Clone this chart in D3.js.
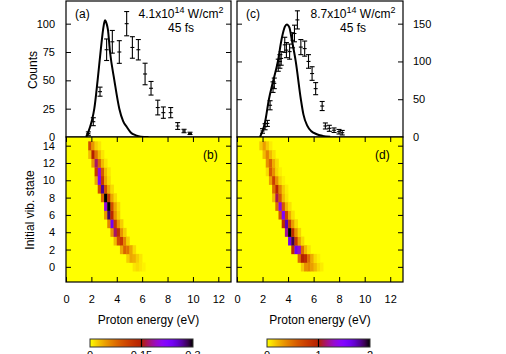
<!DOCTYPE html>
<html><head><meta charset="utf-8">
<script src="https://cdn.jsdelivr.net/npm/d3@7"></script>
<style>
body{margin:0;background:#fff}
svg{display:block;font-family:"Liberation Sans",Arial,sans-serif}
</style></head><body>
<svg id="chart" width="506" height="354"></svg>
<script>
// panel (a): measured counts with error bars, 4.1e14 W/cm2
var aEnergy = [1.76, 2.15, 2.68, 3.2, 3.65, 4.2, 4.78, 5.23, 5.7, 6.23, 6.7, 7.23, 7.67, 8.25, 8.8, 9.3, 9.77];
var aCounts = [3, 13.5, 40, 77, 84, 75, 100, 79, 77, 55.6, 43, 26, 21.5, 21.5, 9.7, 5.3, 3.2];
var aErr    = [1.5, 3.5, 4, 9.5, 10, 10, 10.7, 9.5, 9, 9.5, 6, 6.5, 5, 4.5, 3, 1.5, 1];
// panel (a): calculated curve
var aCurveE = [1.6, 1.9, 2.05, 2.23, 2.49, 2.75, 2.95, 3.07, 3.2, 3.3, 3.47, 3.81, 4.2, 4.5, 4.78, 5.1, 5.5, 5.9, 6.5];
var aCurveC = [0, 9, 15, 25, 50, 78, 97, 103, 100, 95, 75, 50, 25, 14, 9, 4, 1.5, 0.3, 0];

// panel (c): measured counts with error bars, 8.7e14 W/cm2
var cEnergy = [2.0, 2.2, 2.38, 2.59, 2.82, 2.92, 3.23, 3.36, 3.46, 3.74, 3.87, 4.12, 4.35, 4.5, 4.73, 5.0, 5.3, 5.6, 5.88, 6.16, 6.67, 6.92, 7.23, 7.6, 7.99, 8.24];
var cCounts = [8, 13.6, 18, 42, 66, 71, 95, 100, 104, 122, 115, 113, 128, 137, 155, 119, 117, 100, 84, 64, 41, 14.6, 11.5, 9, 7, 5.7];
var cErr    = [3, 4, 4, 6, 7, 7, 8, 9, 9, 10, 10, 10, 10, 11, 12, 10, 10, 9, 9, 8, 6, 4, 4, 3, 3, 3];
// panel (c): calculated curve
var cCurveE = [1.8, 2.0, 2.2, 2.5, 2.8, 3.2, 3.5, 3.75, 3.9, 4.1, 4.3, 4.6, 5.0, 5.2, 5.5, 5.8, 6.2, 6.7, 7.3];
var cCurveC = [0, 8, 20, 50, 72, 100, 130, 146, 149, 145, 128, 100, 50, 30, 15, 8, 4, 1.5, 0.3];

// heat maps: energy bins (left edges, eV) and one row per initial vib. state 0..14
var binEnergy = [1.5, 1.75, 2.0, 2.25, 2.5, 2.75, 3.0, 3.25, 3.5, 3.75, 4.0, 4.25, 4.5, 4.75, 5.0, 5.25, 5.5, 5.75, 6.0, 6.25, 6.5, 6.75, 7.0, 7.25];
var binWidth = 0.25;
var states = [0, 1, 2, 3, 4, 5, 6, 7, 8, 9, 10, 11, 12, 13, 14];
var heatB = [
  [0,0,0,0,0,0,0,0,0,0,0,0,0,0,0,.01,.015,.01,.005,0,0,0,0,0],
  [0,0,0,0,0,0,0,0,0,0,0,0,0,.02,.04,.035,.02,.01,0,0,0,0,0,0],
  [0,0,0,0,0,0,0,0,0,0,0,.04,.08,.07,.04,.015,0,0,0,0,0,0,0,0],
  [0,0,0,0,0,0,0,0,0,.03,.10,.12,.06,.02,0,0,0,0,0,0,0,0,0,0],
  [0,0,0,0,0,0,0,0,.05,.17,.13,.05,.02,0,0,0,0,0,0,0,0,0,0,0],
  [0,0,0,0,0,0,0,.06,.24,.12,.05,.02,0,0,0,0,0,0,0,0,0,0,0,0],
  [0,0,0,0,0,0,.05,.28,.14,.05,.02,0,0,0,0,0,0,0,0,0,0,0,0,0],
  [0,0,0,0,0,0,.20,.30,.10,.04,.015,0,0,0,0,0,0,0,0,0,0,0,0,0],
  [0,0,0,0,0,.08,.30,.12,.04,.015,0,0,0,0,0,0,0,0,0,0,0,0,0,0],
  [0,0,0,0,.10,.27,.10,.04,.015,0,0,0,0,0,0,0,0,0,0,0,0,0,0,0],
  [0,0,0,.04,.23,.12,.04,.015,0,0,0,0,0,0,0,0,0,0,0,0,0,0,0,0],
  [0,0,0,.12,.20,.09,.03,.01,0,0,0,0,0,0,0,0,0,0,0,0,0,0,0,0],
  [0,0,.05,.17,.08,.03,.01,0,0,0,0,0,0,0,0,0,0,0,0,0,0,0,0,0],
  [0,.03,.15,.07,.03,.01,0,0,0,0,0,0,0,0,0,0,0,0,0,0,0,0,0,0],
  [0,.10,.05,.02,.01,0,0,0,0,0,0,0,0,0,0,0,0,0,0,0,0,0,0,0]
];
var heatD = [
  [0,0,0,0,0,0,0,0,0,0,0,0,0,0,.15,.35,.4,.3,.2,.1,.05,0,0,0],
  [0,0,0,0,0,0,0,0,0,0,0,0,0,.5,1.0,.9,.5,.25,.1,.04,0,0,0,0],
  [0,0,0,0,0,0,0,0,0,0,0,.9,1.6,1.3,.5,.2,.07,0,0,0,0,0,0,0],
  [0,0,0,0,0,0,0,0,0,0,1.6,1.9,.8,.3,.1,0,0,0,0,0,0,0,0,0],
  [0,0,0,0,0,0,0,0,0,1.2,2.0,.9,.35,.12,0,0,0,0,0,0,0,0,0,0],
  [0,0,0,0,0,0,0,0,.9,1.75,.75,.3,.1,0,0,0,0,0,0,0,0,0,0,0],
  [0,0,0,0,0,0,0,.6,1.5,.7,.25,.08,0,0,0,0,0,0,0,0,0,0,0,0],
  [0,0,0,0,0,0,.5,1.35,.6,.22,.08,0,0,0,0,0,0,0,0,0,0,0,0,0],
  [0,0,0,0,0,.2,1.1,.6,.2,.07,0,0,0,0,0,0,0,0,0,0,0,0,0,0],
  [0,0,0,0,0,.5,.95,.4,.15,.05,0,0,0,0,0,0,0,0,0,0,0,0,0,0],
  [0,0,0,0,.3,.75,.35,.12,.04,0,0,0,0,0,0,0,0,0,0,0,0,0,0,0],
  [0,0,0,.1,.6,.35,.12,.04,0,0,0,0,0,0,0,0,0,0,0,0,0,0,0,0],
  [0,0,0,.35,.55,.25,.1,0,0,0,0,0,0,0,0,0,0,0,0,0,0,0,0,0],
  [0,0,.2,.4,.2,.08,0,0,0,0,0,0,0,0,0,0,0,0,0,0,0,0,0,0],
  [0,.15,.3,.15,.05,0,0,0,0,0,0,0,0,0,0,0,0,0,0,0,0,0,0,0]
];

var xTicks = [0, 2, 4, 6, 8, 10, 12];
var stateTicks = [0, 2, 4, 6, 8, 10, 12, 14];
var aTicks = [0, 25, 50, 75, 100];
var cTicks = [0, 50, 100, 150];
var cbarB = [0, 0.15, 0.3];
var cbarD = [0, 1, 2];

var svg = d3.select("#chart");
var fs = 11;

// gnuplot default palette (7,5,15), reversed: 0 -> yellow, 1 -> black
function palette(t) {
  var s = 1 - Math.max(0, Math.min(1, t));
  return d3.rgb(255 * Math.sqrt(s), 255 * s * s * s,
                255 * Math.max(0, Math.sin(2 * Math.PI * s)));
}

// panel geometry
var cols = [{x0: 66, x1: 231}, {x0: 237, x1: 403}];
var topY = {y0: 1, y1: 137}, heatY = {y0: 137, y1: 282};

function topPanel(col, energy, counts, err, curveE, curveC, ymax, ticks, label, line1, line2, side) {
  var x = d3.scaleLinear().domain([0, 13]).range([col.x0, col.x1]);
  var y = d3.scaleLinear().domain([0, ymax]).range([topY.y1, topY.y0]);
  var g = svg.append("g");

  // y ticks, left and right, inward
  var left = d3.axisLeft(y).tickValues(ticks).tickSize(-5).tickPadding(11);
  var right = d3.axisRight(y).tickValues(ticks).tickSize(-5).tickPadding(10);
  if (side == "left") right.tickFormat("");
  else left.tickFormat("");
  g.append("g").attr("transform", "translate(" + col.x0 + ",0)").call(left);
  g.append("g").attr("transform", "translate(" + col.x1 + ",0)").call(right);

  // calculated curve
  g.append("path")
    .datum(d3.range(curveE.length))
    .attr("fill", "none").attr("stroke", "#000").attr("stroke-width", 2)
    .attr("d", d3.line().curve(d3.curveMonotoneX)
      .x(function(i) { return x(curveE[i]); })
      .y(function(i) { return y(curveC[i]); }));

  // measured points with error bars
  var pts = g.append("g").attr("stroke", "#000").attr("stroke-width", 1.1)
    .selectAll("g").data(d3.range(energy.length)).enter().append("g");
  pts.append("line")
    .attr("x1", function(i) { return x(energy[i]); })
    .attr("x2", function(i) { return x(energy[i]); })
    .attr("y1", function(i) { return y(counts[i] - err[i]); })
    .attr("y2", function(i) { return y(counts[i] + err[i]); });
  [-1, 0, 1].forEach(function(k) {
    pts.append("line")
      .attr("x1", function(i) { return x(energy[i]) - (k ? 2.5 : 2); })
      .attr("x2", function(i) { return x(energy[i]) + (k ? 2.5 : 2); })
      .attr("y1", function(i) { return y(counts[i] + k * err[i]); })
      .attr("y2", function(i) { return y(counts[i] + k * err[i]); });
  });

  g.append("rect").attr("x", col.x0).attr("y", topY.y0)
    .attr("width", col.x1 - col.x0).attr("height", topY.y1 - topY.y0)
    .attr("fill", "none").attr("stroke", "#000").attr("stroke-width", 1.2);

  g.append("text").attr("x", col.x0 + 9).attr("y", 18).attr("font-size", 12).text(label);
  var t = g.append("text").attr("x", col.x1 - 50).attr("y", 18).attr("font-size", 12)
    .attr("text-anchor", "middle");
  t.append("tspan").text(line1 + "x10");
  t.append("tspan").attr("dy", -5).attr("font-size", 9).text("14");
  t.append("tspan").attr("dy", 5).text(" W/cm");
  t.append("tspan").attr("dy", -5).attr("font-size", 9).text("2");
  g.append("text").attr("x", col.x1 - 50).attr("y", 32).attr("font-size", 12)
    .attr("text-anchor", "middle").text(line2);
}

function heatPanel(col, grid, vmax, label, showY) {
  var x = d3.scaleLinear().domain([0, 13]).range([col.x0, col.x1]);
  var y = d3.scaleLinear().domain([-1.75, 15]).range([heatY.y1, heatY.y0]);
  var g = svg.append("g");

  g.append("rect").attr("x", col.x0).attr("y", heatY.y0)
    .attr("width", col.x1 - col.x0).attr("height", heatY.y1 - heatY.y0)
    .attr("fill", palette(0));

  var cells = [];
  states.forEach(function(s, r) {
    binEnergy.forEach(function(e, c) {
      if (grid[r][c] > 0) cells.push({s: s, e: e, v: grid[r][c]});
    });
  });
  g.append("g").selectAll("rect").data(cells).enter().append("rect")
    .attr("x", function(d) { return x(d.e); })
    .attr("width", function(d) { return x(d.e + binWidth) - x(d.e) + 0.3; })
    .attr("y", function(d) { return y(d.s + 0.5); })
    .attr("height", function(d) { return y(d.s - 0.5) - y(d.s + 0.5) + 0.3; })
    .attr("fill", function(d) { return palette(d.v / vmax); });

  var left = d3.axisLeft(y).tickValues(stateTicks).tickSize(-5).tickPadding(11);
  if (!showY) left.tickFormat("");
  g.append("g").attr("transform", "translate(" + col.x0 + ",0)").call(left);
  g.append("g").attr("transform", "translate(" + col.x1 + ",0)")
    .call(d3.axisRight(y).tickValues(stateTicks).tickSize(-5).tickFormat(""));
  g.append("g").attr("transform", "translate(0," + heatY.y1 + ")")
    .call(d3.axisBottom(x).tickValues(xTicks).tickSize(-5).tickPadding(13));
  g.append("g").attr("transform", "translate(0," + heatY.y0 + ")")
    .call(d3.axisTop(x).tickValues(xTicks).tickSize(-5).tickFormat(""));

  g.append("rect").attr("x", col.x0).attr("y", heatY.y0)
    .attr("width", col.x1 - col.x0).attr("height", heatY.y1 - heatY.y0)
    .attr("fill", "none").attr("stroke", "#000").attr("stroke-width", 1.2);

  g.append("text").attr("x", col.x1 - 28).attr("y", 159).attr("font-size", 12).text(label);
  g.append("text").attr("x", (col.x0 + col.x1) / 2).attr("y", 324)
    .attr("text-anchor", "middle").attr("font-size", 12).text("Proton energy (eV)");
}

function colorBar(x0, x1, ticks, id) {
  var grad = svg.append("defs").append("linearGradient").attr("id", id);
  d3.range(0, 1.001, 0.05).forEach(function(t) {
    grad.append("stop").attr("offset", t).attr("stop-color", palette(t));
  });
  var x = d3.scaleLinear().domain([ticks[0], ticks[2]]).range([x0, x1]);
  svg.append("rect").attr("x", x0).attr("y", 339).attr("width", x1 - x0).attr("height", 8)
    .attr("fill", "url(#" + id + ")").attr("stroke", "#333").attr("stroke-width", 1);
  svg.append("line").attr("x1", x(ticks[1])).attr("x2", x(ticks[1]))
    .attr("y1", 339).attr("y2", 347).attr("stroke", "#000").attr("stroke-width", 1.2);
  svg.append("g").selectAll("text").data(ticks).enter().append("text")
    .attr("x", function(d) { return x(d); }).attr("y", 359)
    .attr("text-anchor", "middle").attr("font-size", fs)
    .text(function(d) { return d; });
}

topPanel(cols[0], aEnergy, aCounts, aErr, aCurveE, aCurveC, 120, aTicks, "(a)", "4.1", "45 fs", "left");
topPanel(cols[1], cEnergy, cCounts, cErr, cCurveE, cCurveC, 180, cTicks, "(c)", "8.7", "45 fs", "right");
heatPanel(cols[0], heatB, 0.3, "(b)", true);
heatPanel(cols[1], heatD, 2, "(d)", false);
colorBar(90, 193, cbarB, "gb");
colorBar(267, 370, cbarD, "gd");

svg.selectAll(".tick text").attr("font-size", fs).attr("font-family", null);
svg.selectAll(".domain").remove();
svg.selectAll(".tick line").attr("stroke", "#000");

svg.append("text").attr("transform", "translate(37,70) rotate(-90)")
  .attr("text-anchor", "middle").attr("font-size", 12).text("Counts");
svg.append("text").attr("transform", "translate(34,210) rotate(-90)")
  .attr("text-anchor", "middle").attr("font-size", 12).text("Initial vib. state");
</script>
</body></html>
